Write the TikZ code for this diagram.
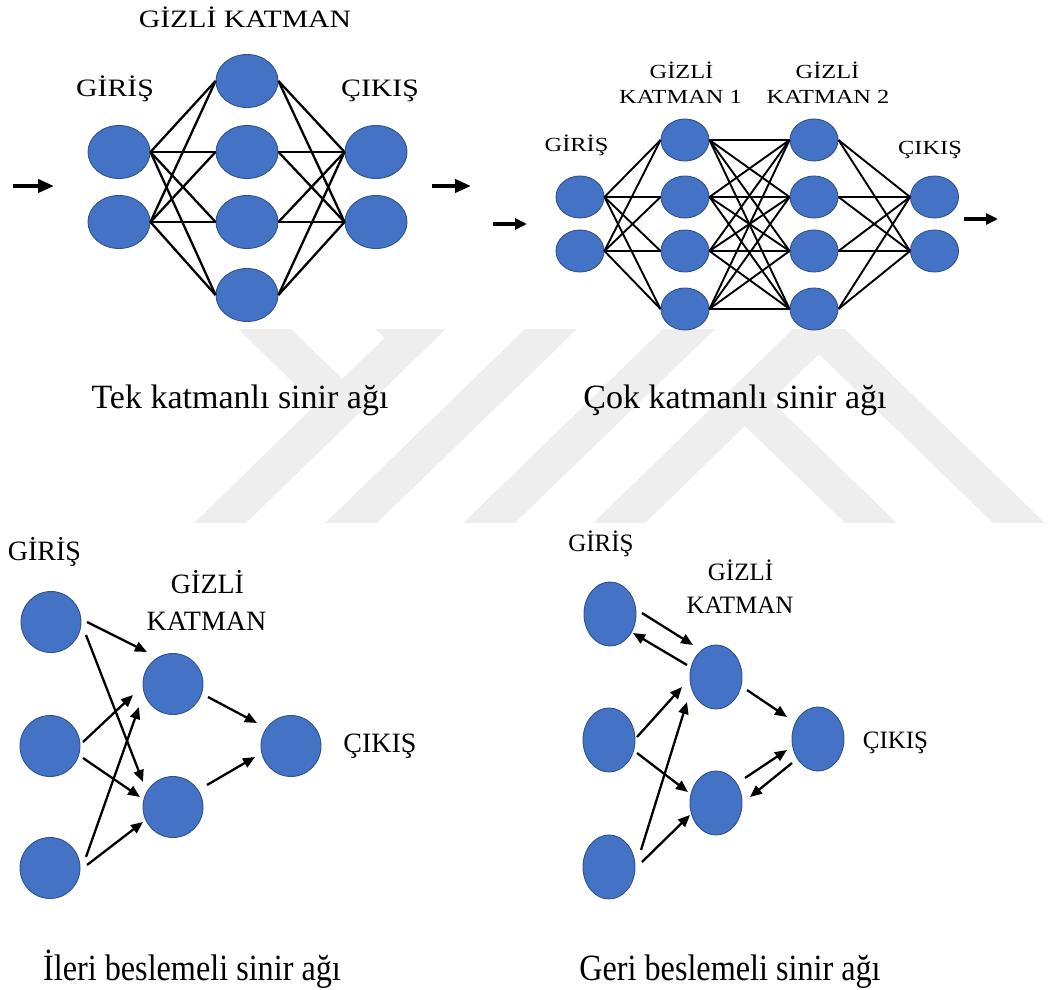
\documentclass[tikz,border=0pt]{standalone}
\usepackage{fontspec}
\usepackage{graphicx}
\setmainfont{Liberation Serif}
\usetikzlibrary{shapes.geometric,arrows.meta,calc}
\definecolor{nodeblue}{HTML}{4472C4}
\definecolor{nodeedge}{HTML}{2F528F}
\definecolor{wmgray}{RGB}{238,238,238}
\newcommand{\setfs}[1]{\fontsize{#1}{#1}\selectfont}

\begin{document}
\begin{tikzpicture}[x=1pt,y=-1pt,
  neuron/.style={ellipse, fill=nodeblue, draw=nodeedge, line width=0.9pt, inner sep=0pt},
  nA/.style={neuron, minimum width=62pt, minimum height=53pt},
  nB/.style={neuron, minimum width=48pt, minimum height=42pt},
  nC/.style={neuron, minimum width=60pt, minimum height=61pt},
  nD/.style={neuron, minimum width=52pt, minimum height=64pt},
  linkA/.style={line width=2.3pt, black},
  linkB/.style={line width=1.9pt, black},
  feed/.style={line width=2.3pt, -{Triangle[length=12pt,width=10pt]}},
  bigarrow/.style={line width=4pt, -{Triangle[length=16pt,width=13pt]}},
  smallarrow/.style={line width=3.2pt, -{Triangle[length=12pt,width=11pt]}},
  lbl/.style={anchor=base, inner sep=0pt, text=black},
]
\useasboundingbox (0,0) rectangle (1058,990);

% faint background logo between the panels
\begin{scope}
  \clip (0,329) rectangle (1058,523);
  \fill[wmgray] (238,329) -- (291,329) -- (342.5,379) -- (316,404.7) -- cycle;
  \fill[wmgray] (375,329) -- (446,329) -- (246,523) -- (194,523) -- (384.7,337.7) -- cycle;
  \fill[wmgray] (525,329) -- (577,329) -- (377,523) -- (325,523) -- cycle;
  \fill[wmgray] (663,329) -- (715,329) -- (515,523) -- (463,523) -- cycle;
  \fill[wmgray] (793,329) -- (845,329) -- (645,523) -- (593,523) -- cycle;
  \fill[wmgray] (793,329) -- (845,329) -- (1045,523) -- (993,523) -- cycle;
  \fill[wmgray] (745,426) -- (771,400.8) -- (897,523) -- (845,523) -- cycle;
\end{scope}

% ---------- single-layer network ----------
\node[lbl] (sTitle) at (245,28) {\setfs{25}\scalebox{1.19}[1]{GİZLİ KATMAN}};
\node[lbl] (sIn)    at (115,96) {\setfs{25}\scalebox{1.19}[1]{GİRİŞ}};
\node[lbl] (sOut)   at (380,96) {\setfs{25}\scalebox{1.19}[1]{ÇIKIŞ}};

\node[nA] (si1) at (119,152) {};
\node[nA] (si2) at (119,222) {};
\node[nA] (sh1) at (247,81) {};
\node[nA] (sh2) at (247,152) {};
\node[nA] (sh3) at (247,222) {};
\node[nA] (sh4) at (247,295) {};
\node[nA] (so1) at (376,152) {};
\node[nA] (so2) at (376,222) {};

\foreach \i in {1,2}{
  \foreach \j in {1,...,4}{
    \draw[linkA] (si\i.east) -- (sh\j.west);
    \draw[linkA] (sh\j.east) -- (so\i.west);
  }
}

\coordinate (sinA) at (13,186);
\coordinate (sinB) at (54,186);
\coordinate (soutA) at (432,186);
\coordinate (soutB) at (471,186);
\draw[bigarrow] (sinA) -- (sinB);
\draw[bigarrow] (soutA) -- (soutB);

\node[lbl] (sCap) at (240,408) {\setfs{34}Tek katmanlı sinir ağı};

% ---------- multi-layer network ----------
\node[lbl] (mT1a) at (681.5,78) {\setfs{20}\scalebox{1.22}[1]{GİZLİ}};
\node[lbl] (mT1b) at (680.5,103) {\setfs{20}\scalebox{1.22}[1]{KATMAN 1}};
\node[lbl] (mT2a) at (827.5,78) {\setfs{20}\scalebox{1.22}[1]{GİZLİ}};
\node[lbl] (mT2b) at (828,103) {\setfs{20}\scalebox{1.22}[1]{KATMAN 2}};
\node[lbl] (mIn)  at (576.5,151) {\setfs{20}\scalebox{1.22}[1]{GİRİŞ}};
\node[lbl] (mOut) at (930,154) {\setfs{20}\scalebox{1.22}[1]{ÇIKIŞ}};

\node[nB] (mi1) at (580,197) {};
\node[nB] (mi2) at (580,251) {};
\foreach \k/\y in {1/140,2/197,3/251,4/309}{
  \node[nB] (ma\k) at (685,\y) {};
  \node[nB] (mb\k) at (814,\y) {};
}
\node[nB] (mo1) at (934.5,197) {};
\node[nB] (mo2) at (934.5,251) {};

\foreach \j in {1,...,4}{
  \foreach \i in {1,2}{
    \draw[linkB] (mi\i.east) -- (ma\j.west);
    \draw[linkB] (mb\j.east) -- (mo\i.west);
  }
  \foreach \k in {1,...,4}{
    \draw[linkB] (ma\j.east) -- (mb\k.west);
  }
}

\coordinate (minA) at (493,224);
\coordinate (minB) at (527,224);
\coordinate (moutA) at (964,219);
\coordinate (moutB) at (998,219);
\draw[smallarrow] (minA) -- (minB);
\draw[smallarrow] (moutA) -- (moutB);

\node[lbl] (mCap) at (735,408) {\setfs{34}Çok katmanlı sinir ağı};

% ---------- feed-forward network ----------
\node[lbl] (fIn)  at (44.5,560) {\setfs{28}GİRİŞ};
\node[lbl] (fHa)  at (207.5,593) {\setfs{28}GİZLİ};
\node[lbl] (fHb)  at (206.5,630) {\setfs{28}KATMAN};
\node[lbl] (fOut) at (380,752) {\setfs{28}ÇIKIŞ};

\node[nC] (fi1) at (51,622) {};
\node[nC] (fi2) at (50,746) {};
\node[nC] (fi3) at (50,868) {};
\node[nC] (fh1) at (173,684) {};
\node[nC] (fh2) at (173,807) {};
\node[nC] (fo)  at (291,746) {};

\draw[feed] ($(fi1)+(36,0)$)   -- ($(fh1)+(-26,-32)$);
\draw[feed] ($(fi1)+(35,13)$)  -- ($(fh2)+(-30,-25)$);
\draw[feed] ($(fi2)+(33,-4)$)  -- ($(fh1)+(-40,11)$);
\draw[feed] ($(fi2)+(33,12)$)  -- ($(fh2)+(-33,-10)$);
\draw[feed] ($(fi3)+(36,-11)$) -- ($(fh1)+(-34,23)$);
\draw[feed] ($(fi3)+(37,-3)$)  -- ($(fh2)+(-30,15)$);
\draw[feed] ($(fh1)+(35,13)$)  -- ($(fo)+(-34,-23)$);
\draw[feed] ($(fh2)+(34,-22)$) -- ($(fo)+(-36,11)$);

\node[lbl] (fCap) at (192,980) {\setfs{37}\scalebox{0.87}[1]{İleri beslemeli sinir ağı}};

% ---------- recurrent network ----------
\node[lbl] (rIn)  at (601,551) {\setfs{25}GİRİŞ};
\node[lbl] (rHa)  at (740.5,580) {\setfs{25}GİZLİ};
\node[lbl] (rHb)  at (740,613) {\setfs{25}KATMAN};
\node[lbl] (rOut) at (895.5,748) {\setfs{25}ÇIKIŞ};

\node[nD] (ri1) at (610,614) {};
\node[nD] (ri2) at (609,740) {};
\node[nD] (ri3) at (609,867) {};
\node[nD] (rh1) at (716,677) {};
\node[nD] (rh2) at (716,803) {};
\node[nD] (ro)  at (818,739) {};

\draw[feed] ($(ri1)+(32,-1)$)  -- ($(rh1)+(-23,-32)$);
\draw[feed] ($(rh1)+(-29,-12)$) -- ($(ri1)+(23,19)$);
\draw[feed] ($(ri2)+(28,-3)$)  -- ($(rh1)+(-34,10)$);
\draw[feed] ($(ri2)+(28,13)$)  -- ($(rh2)+(-28,-11)$);
\draw[feed] ($(ri3)+(32,-17)$) -- ($(rh1)+(-29,25)$);
\draw[feed] ($(ri3)+(33,-5)$)  -- ($(rh2)+(-26,12)$);
\draw[feed] ($(rh1)+(31,13)$)  -- ($(ro)+(-31,-22)$);
\draw[feed] ($(rh2)+(29,-25)$) -- ($(ro)+(-31,11)$);
\draw[feed] ($(ro)+(-26,24)$)  -- ($(rh2)+(34,-6)$);

\node[lbl] (rCap) at (730,980) {\setfs{37}\scalebox{0.87}[1]{Geri beslemeli sinir ağı}};
\end{tikzpicture}
\end{document}
